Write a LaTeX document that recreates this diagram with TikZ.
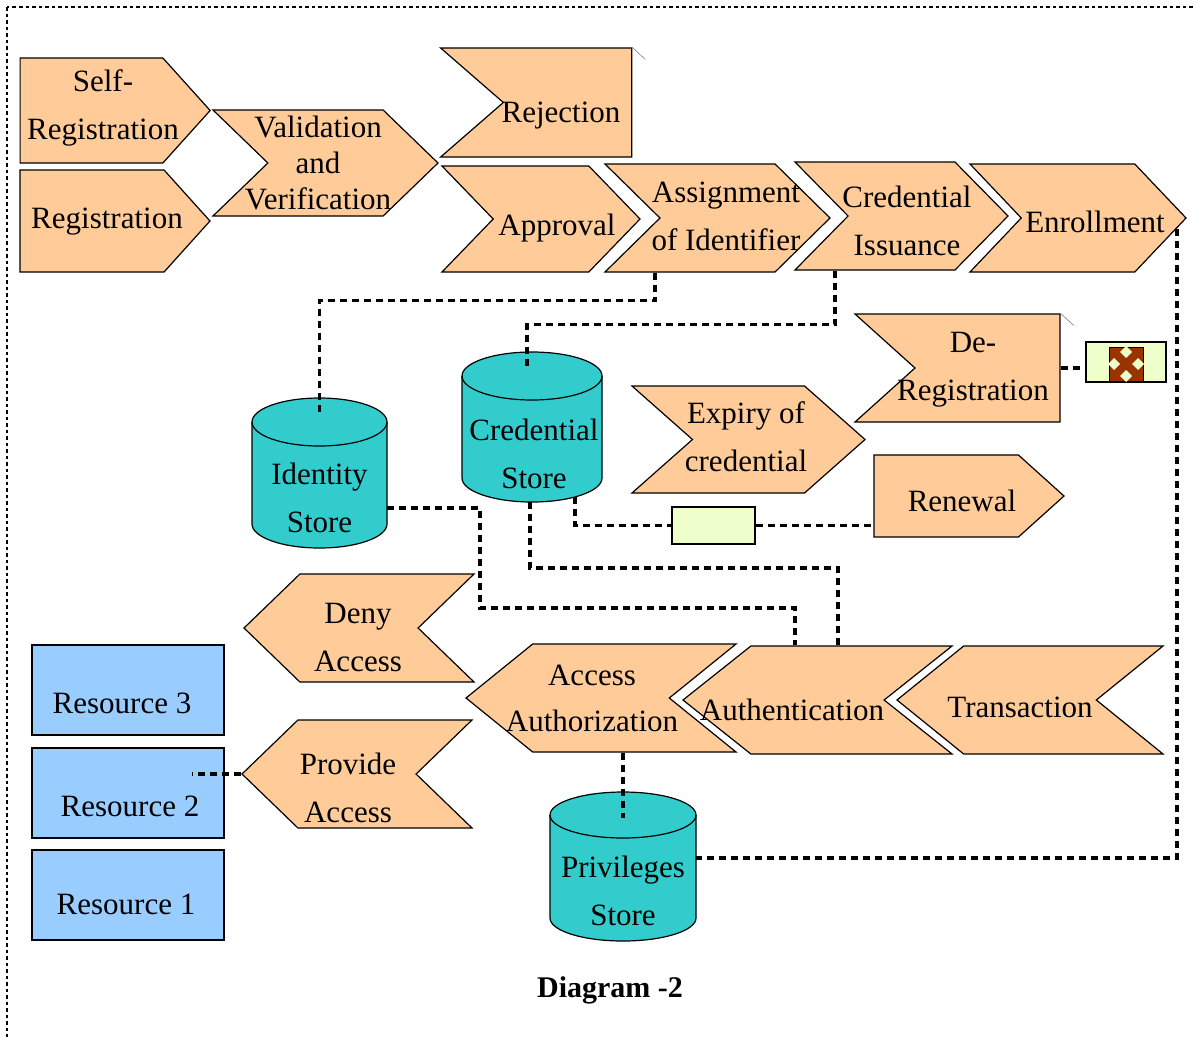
\documentclass[tikz,border=0pt]{standalone}
\usepackage{fontspec}
\setmainfont{Liberation Serif}
\usetikzlibrary{shapes.symbols}

\definecolor{peach}{HTML}{FFCC99}
\definecolor{aqua}{HTML}{33CCCC}
\definecolor{sky}{HTML}{99CCFF}
\definecolor{pale}{HTML}{EEFFCC}
\definecolor{rust}{HTML}{993300}

\tikzset{
  stage/.style={signal, draw, fill=peach, line width=1.2pt, inner sep=0pt, signal from=nowhere, signal to=east},
  txt/.style={align=center, inner sep=0pt, font=\fontsize{31}{48}\selectfont},
  can/.style={draw, fill=aqua, line width=1.2pt},
  body/.style={inner sep=0pt},
  resbox/.style={draw, fill=sky, line width=1.5pt, inner sep=0pt, minimum width=192pt, minimum height=90pt},
  tilebox/.style={draw, fill=pale, line width=1.5pt, inner sep=0pt},
  link/.style={line width=3.5pt, dash pattern=on 7pt off 5pt},
  frame/.style={line width=2.5pt, dash pattern=on 3.5pt off 3pt}
}

\begin{document}
\begin{tikzpicture}[x=1pt,y=1pt]
\useasboundingbox (0,0) rectangle (1193,-1036);
\draw[frame] (7,-7) rectangle (1230,-1070);

% enrolment chain
\node[stage, signal pointer angle=96, minimum width=190, minimum height=105, label={[txt,shift={(11.5,2.5)}]center:Self-\\Registration}] (selfreg) at (91.5,-110.5) {};
\node[stage, signal pointer angle=96, minimum width=190, minimum height=102, label={[txt,shift={(15,-1)}]center:Registration}] (reg) at (92,-221) {};
\node[stage, signal from=west, signal pointer angle=88, minimum width=225, minimum height=106, label={[txt,font=\fontsize{31}{36}\selectfont,shift={(-7.5,0)}]center:Validation\\and\\Verification}] (valid) at (325.5,-163) {};
\node[stage, signal from=west, signal to=nowhere, signal pointer angle=82, minimum width=191, minimum height=109, label={[txt,shift={(-6.5,-13.5)}]center:Rejection}] (reject) at (567.5,-102.5) {};
\node[stage, signal from=west, signal pointer angle=92, minimum width=198, minimum height=106, label={[txt,shift={(16,-9)}]center:Approval}] (approve) at (541,-219) {};
\node[stage, signal from=west, signal pointer angle=89, minimum width=225, minimum height=108, label={[txt,shift={(8.5,2)}]center:Assignment\\of Identifier}] (assign) at (717.5,-218) {};
\node[stage, signal from=west, signal pointer angle=91, minimum width=213, minimum height=108, label={[txt,shift={(5.5,-5)}]center:Credential\\Issuance}] (issue) at (901.5,-216) {};
\node[stage, signal from=west, signal pointer angle=93, minimum width=216, minimum height=108, label={[txt,shift={(17,-4)}]center:Enrollment}] (enrol) at (1078,-218) {};
\node[stage, signal from=west, signal to=nowhere, signal pointer angle=84, minimum width=205, minimum height=108, label={[txt,shift={(-14.5,-2)}]center:De-\\Registration}] (dereg) at (987.5,-368) {};
\node[stage, signal from=west, signal pointer angle=83, minimum width=233, minimum height=107, label={[txt,shift={(-2.5,2.5)}]center:Expiry of\\credential}] (expiry) at (748.5,-439.5) {};
\node[stage, signal pointer angle=84, minimum width=190, minimum height=82, label={[txt,shift={(15.8,-5)}]center:Renewal}] (renew) at (946.2,-496) {};
\draw[gray, line width=0.6pt] (reject.north east) -- ++(13,-12);
\draw[gray, line width=0.6pt] (dereg.north east) -- ++(13,-12);

% access chain
\node[stage, signal from=east, signal to=west, signal pointer angle=88, minimum width=230, minimum height=108, label={[txt,shift={(-1,-9.5)}]center:Deny\\Access}] (deny) at (359,-628) {};
\node[stage, signal from=east, signal to=west, signal pointer angle=88, minimum width=230, minimum height=108, label={[txt,shift={(-9,-13.5)}]center:Provide\\Access}] (provide) at (357,-774) {};
\node[stage, signal from=east, signal to=west, signal pointer angle=78, minimum width=270, minimum height=108, label={[txt,font=\fontsize{31}{46}\selectfont,shift={(-9,0)}]center:Access\\Authorization}] (authz) at (601,-698) {};
\node[stage, signal from=east, signal to=west, signal pointer angle=77, minimum width=269, minimum height=108, label={[txt,shift={(-25.5,-10)}]center:Authentication}] (authn) at (817.5,-700) {};
\node[stage, signal from=east, signal to=west, signal pointer angle=78, minimum width=266, minimum height=108, label={[txt,shift={(-10,-7)}]center:Transaction}] (trans) at (1030,-700) {};

% stores
\draw[can] (252,-422) -- (252,-524) arc[start angle=180, end angle=360, x radius=67.5, y radius=24] -- (387,-422) arc[start angle=0, end angle=180, x radius=67.5, y radius=24] -- cycle;
\draw[line width=1.2pt] (252,-422) arc[start angle=180, end angle=360, x radius=67.5, y radius=24];
\node[body, minimum width=135, minimum height=150, label={[txt,shift={(0,-24.5)}]center:Identity\\Store}] (idstore) at (319.5,-473) {};
\draw[can] (462,-376) -- (462,-478) arc[start angle=180, end angle=360, x radius=70, y radius=24] -- (602,-376) arc[start angle=0, end angle=180, x radius=70, y radius=24] -- cycle;
\draw[line width=1.2pt] (462,-376) arc[start angle=180, end angle=360, x radius=70, y radius=24];
\node[body, minimum width=140, minimum height=150, label={[txt,shift={(2,-27)}]center:Credential\\Store}] (credstore) at (532,-427) {};
\draw[can] (550,-815) -- (550,-918) arc[start angle=180, end angle=360, x radius=73, y radius=23] -- (696,-815) arc[start angle=0, end angle=180, x radius=73, y radius=23] -- cycle;
\draw[line width=1.2pt] (550,-815) arc[start angle=180, end angle=360, x radius=73, y radius=23];
\node[body, minimum width=146, minimum height=150, label={[txt,shift={(0,-23.5)}]center:Privileges\\Store}] (privstore) at (623,-867) {};

% resources
\node[resbox, label={[txt,shift={(-6,-13)}]center:Resource 3}] (res3) at (128,-690) {};
\node[resbox, label={[txt,shift={(2,-13)}]center:Resource 2}] (res2) at (128,-793) {};
\node[resbox, label={[txt,shift={(-2,-9)}]center:Resource 1}] (res1) at (128,-895) {};

% small tiles
\node[tilebox, minimum width=83, minimum height=37] (tile) at (713.5,-525.5) {};
\node[tilebox, minimum width=80, minimum height=40] (xtile) at (1126,-362) {};
\draw[fill=rust, line width=1pt] (1109,-347) rectangle (1143,-381);
\fill[pale] (1126,-346) -- (1132,-352) -- (1126,-358) -- (1120,-352) -- cycle;
\fill[pale] (1126,-370) -- (1132,-376) -- (1126,-382) -- (1120,-376) -- cycle;
\fill[pale] (1114,-358) -- (1120,-364) -- (1114,-370) -- (1108,-364) -- cycle;
\fill[pale] (1138,-358) -- (1144,-364) -- (1138,-370) -- (1132,-364) -- cycle;

% dotted links
\draw[link] ([xshift=-62.5]assign.south) -- ++(0,-28) -| ([yshift=-14]idstore.north);
\draw[link] ([xshift=-66.5]issue.south) -- ++(0,-54) -| ([xshift=-5,yshift=-16]credstore.north);
\draw[link] ([yshift=-35]idstore.east) -| (480,-608) -| ([xshift=-22.5]authn.north);
\draw[link] ([xshift=-2]credstore.south) -- ++(0,-66) -| ([xshift=20.5]authn.north);
\draw[link] ([xshift=43,yshift=5]credstore.south) |- (tile.west);
\draw[link] (tile.east) -- (tile.east -| renew.west);
\draw[link] (dereg.east) -- (dereg.east -| xtile.west);
\draw[link] ([xshift=-10,yshift=-11]enrol.east) |- ([yshift=9]privstore.east);
\draw[link] (authz.south -| privstore.north) -- ([yshift=-26]privstore.north);
\draw[link] (provide.west) -- ++(-49,0);

\node[font=\bfseries\fontsize{30}{36}\selectfont] (title) at (610,-990) {Diagram -2};
\end{tikzpicture}
\end{document}
